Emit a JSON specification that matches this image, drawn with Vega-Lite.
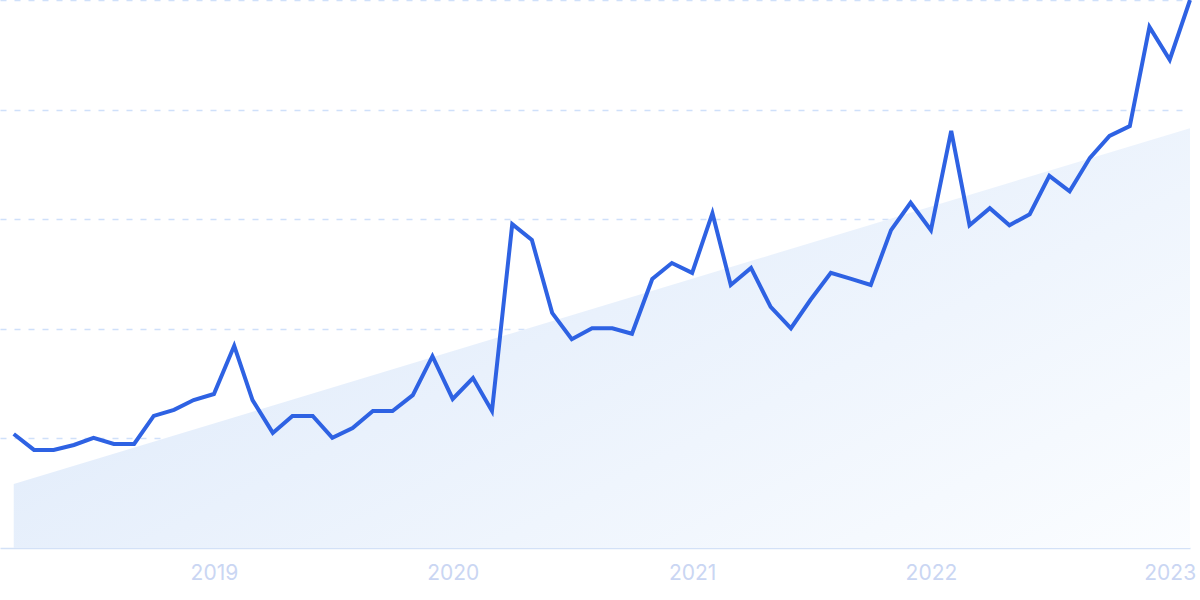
{
  "$schema": "https://vega.github.io/schema/vega-lite/v6.json",
  "width": 1190,
  "height": 548,
  "autosize": {"type": "none"},
  "padding": {"left": 0, "top": 0, "right": 10, "bottom": 52},
  "background": "white",
  "config": {"view": {"stroke": null}, "font": "Inter"},
  "datasets": {
    "trend": [
      {"date": "2018-03-01", "value": 11.7},
      {"date": "2023-02-01", "value": 76.6}
    ],
    "series": [
      {"date": "2018-03-01", "value": 20.8},
      {"date": "2018-04-01", "value": 17.9},
      {"date": "2018-05-01", "value": 17.9},
      {"date": "2018-06-01", "value": 18.8},
      {"date": "2018-07-01", "value": 20.1},
      {"date": "2018-08-01", "value": 19.0},
      {"date": "2018-09-01", "value": 19.0},
      {"date": "2018-10-01", "value": 24.1},
      {"date": "2018-11-01", "value": 25.2},
      {"date": "2018-12-01", "value": 27.0},
      {"date": "2019-01-01", "value": 28.1},
      {"date": "2019-02-01", "value": 36.9},
      {"date": "2019-03-01", "value": 27.0},
      {"date": "2019-04-01", "value": 21.0},
      {"date": "2019-05-01", "value": 24.1},
      {"date": "2019-06-01", "value": 24.1},
      {"date": "2019-07-01", "value": 20.1},
      {"date": "2019-08-01", "value": 21.9},
      {"date": "2019-09-01", "value": 25.0},
      {"date": "2019-10-01", "value": 25.0},
      {"date": "2019-11-01", "value": 27.9},
      {"date": "2019-12-01", "value": 35.0},
      {"date": "2020-01-01", "value": 27.2},
      {"date": "2020-02-01", "value": 31.0},
      {"date": "2020-03-01", "value": 25.0},
      {"date": "2020-04-01", "value": 59.1},
      {"date": "2020-05-01", "value": 56.2},
      {"date": "2020-06-01", "value": 42.9},
      {"date": "2020-07-01", "value": 38.1},
      {"date": "2020-08-01", "value": 40.1},
      {"date": "2020-09-01", "value": 40.1},
      {"date": "2020-10-01", "value": 39.1},
      {"date": "2020-11-01", "value": 49.1},
      {"date": "2020-12-01", "value": 52.0},
      {"date": "2021-01-01", "value": 50.2},
      {"date": "2021-02-01", "value": 61.1},
      {"date": "2021-03-01", "value": 48.0},
      {"date": "2021-04-01", "value": 51.1},
      {"date": "2021-05-01", "value": 44.0},
      {"date": "2021-06-01", "value": 40.1},
      {"date": "2021-07-01", "value": 45.3},
      {"date": "2021-08-01", "value": 50.2},
      {"date": "2021-09-01", "value": 49.1},
      {"date": "2021-10-01", "value": 48.0},
      {"date": "2021-11-01", "value": 58.0},
      {"date": "2021-12-01", "value": 63.0},
      {"date": "2022-01-01", "value": 58.0},
      {"date": "2022-02-01", "value": 76.1},
      {"date": "2022-03-01", "value": 58.9},
      {"date": "2022-04-01", "value": 62.0},
      {"date": "2022-05-01", "value": 58.9},
      {"date": "2022-06-01", "value": 60.9},
      {"date": "2022-07-01", "value": 67.9},
      {"date": "2022-08-01", "value": 65.1},
      {"date": "2022-09-01", "value": 71.2},
      {"date": "2022-10-01", "value": 75.2},
      {"date": "2022-11-01", "value": 77.0},
      {"date": "2022-12-01", "value": 95.1},
      {"date": "2023-01-01", "value": 89.1},
      {"date": "2023-02-01", "value": 100}
    ]
  },
  "layer": [
    {
      "data": {"name": "trend"},
      "mark": {
        "type": "area",
        "color": {
          "gradient": "linear",
          "x1": 0, "y1": 0.3, "x2": 1, "y2": 1,
          "stops": [
            {"offset": 0, "color": "#dde9fa"},
            {"offset": 1, "color": "#fbfdff"}
          ]
        }
      },
      "encoding": {
        "x": {
          "field": "date", "type": "temporal",
          "scale": {"domain": ["2018-02-08", "2023-02-01"]},
          "axis": {
            "title": null,
            "format": "%Y",
            "tickCount": {"interval": "year", "step": 1},
            "ticks": false,
            "grid": false,
            "domain": true,
            "domainColor": "#d3e1f7",
            "domainWidth": 1.5,
            "labelColor": "#cad6f3",
            "labelFontSize": 21,
            "labelFont": "Inter",
            "labelPadding": 14,
            "labelFlush": false,
            "labelOverlap": false
          }
        },
        "y": {
          "field": "value", "type": "quantitative",
          "scale": {"domain": [0, 100], "nice": false, "zero": true},
          "axis": {
            "title": null,
            "values": [20, 40, 60, 80, 100],
            "labels": false,
            "ticks": false,
            "domain": false,
            "grid": true,
            "gridColor": "#cfe0fa",
            "gridWidth": 1.5,
            "gridDash": [6, 8]
          }
        }
      }
    },
    {
      "data": {"name": "series"},
      "mark": {"type": "line", "color": "#2e62e3", "strokeWidth": 4, "strokeJoin": "miter", "clip": false},
      "encoding": {
        "x": {"field": "date", "type": "temporal"},
        "y": {"field": "value", "type": "quantitative"}
      }
    }
  ]
}
